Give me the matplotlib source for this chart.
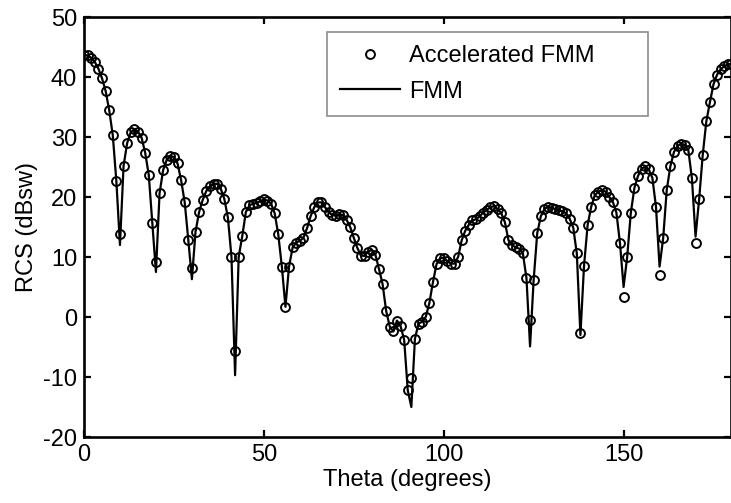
import matplotlib
matplotlib.use("Agg")
import matplotlib.pyplot as plt
import numpy as np

plt.rcParams['font.family'] = ['Liberation Sans', 'DejaVu Sans']
plt.rcParams['axes.unicode_minus'] = False

theta = list(range(0, 181))

rcs_accelerated = [
    43.7, 43.6, 43.2, 42.5, 41.4, 39.8, 37.7, 34.5, 30.3, 22.6,
    13.8, 25.2, 29.0, 30.8, 31.3, 30.9, 29.9, 27.4, 23.7, 15.6,
    9.2, 20.6, 24.5, 26.2, 26.9, 26.6, 25.6, 22.8, 19.1, 12.8,
    8.1, 14.2, 17.5, 19.5, 21.0, 21.8, 22.2, 22.2, 21.4, 19.7,
    16.6, 10.0, -5.7, 10.0, 13.5, 17.5, 18.6, 18.9, 19.0, 19.3,
    19.6, 19.4, 18.9, 17.3, 13.8, 8.4, 1.7, 8.4, 11.6, 12.4,
    12.7, 13.2, 14.8, 16.8, 18.3, 19.1, 19.1, 18.3, 17.5, 17.0,
    16.9, 17.1, 17.0, 16.2, 15.0, 13.2, 11.5, 10.2, 10.2, 10.9,
    11.2, 10.4, 8.0, 5.5, 1.0, -1.6, -2.4, -0.6, -1.5, -3.8,
    -12.2, -10.2, -3.6, -1.1, -0.8, 0.0, 2.3, 5.8, 8.8, 9.8,
    9.9, 9.3, 8.9, 8.9, 10.0, 12.8, 14.4, 15.4, 16.1, 16.3,
    16.8, 17.4, 17.9, 18.3, 18.5, 18.0, 17.3, 15.8, 12.8, 12.0,
    11.6, 11.4, 10.6, 6.5, -0.5, 6.2, 14.0, 16.8, 18.0, 18.4,
    18.2, 18.0, 17.8, 17.6, 17.3, 16.4, 14.9, 10.6, -2.7, 8.5,
    15.3, 18.4, 20.3, 20.9, 21.1, 20.9, 20.0, 19.2, 17.4, 12.3,
    3.4, 10.0, 17.3, 21.5, 23.5, 24.7, 25.1, 24.6, 23.2, 18.4,
    7.0, 13.1, 21.2, 25.1, 27.5, 28.5, 28.9, 28.7, 27.8, 23.1,
    12.3, 19.6, 27.0, 32.6, 35.8, 38.8, 40.4, 41.3, 41.8, 42.1,
    42.2,
]

# FMM reference: same samples, deeper/shallower at the nulls
fmm_null_theta = [10, 20, 30, 42, 91, 124, 138, 150, 160, 170]
fmm_null_value = [12.0, 7.5, 6.3, -9.7, -15.0, -4.9, -3.0, 5.0, 8.4, 13.4]
rcs_fmm = list(rcs_accelerated)
for t, v in zip(fmm_null_theta, fmm_null_value):
    rcs_fmm[theta.index(t)] = v

xticks = [0, 50, 100, 150]
yticks = [-20, -10, 0, 10, 20, 30, 40, 50]

fig = plt.figure(figsize=(7.31, 5.03), dpi=100)
W, H = 731, 503
ax = fig.add_axes([84 / W, (H - 437) / H, 647.5 / W, 420 / H])

line_fmm, = ax.plot(theta, rcs_fmm, color='black', lw=1.6, zorder=2)
pts_acc, = ax.plot(theta, rcs_accelerated, linestyle='none', marker='o',
                   markersize=6.4, markerfacecolor='none',
                   markeredgecolor='black', markeredgewidth=1.4, zorder=3)

ax.set_xlim(0, 180)
ax.set_ylim(-20, 50)
ax.set_xticks(xticks)
ax.set_yticks(yticks)
ax.tick_params(direction='in', length=5, width=1.6, top=True, right=True,
               labelsize=17, pad=5)
for s in ax.spines.values():
    s.set_linewidth(1.9)

ax.set_xlabel('Theta (degrees)', fontsize=17, labelpad=2)
ax.set_ylabel('RCS (dBsw)', fontsize=17, labelpad=4)

x0 = (326.7 - 84) / 647.5
x1 = (647.7 - 84) / 647.5
ytop = (437 - 31.7) / 420
leg = ax.legend([pts_acc, line_fmm], ['Accelerated FMM', 'FMM'],
                loc='upper left', bbox_to_anchor=(x0, ytop - 0.3, x1 - x0, 0.3),
                mode='expand', borderaxespad=0, fontsize=17, numpoints=1,
                handlelength=2.55, handletextpad=0.35, borderpad=0.57,
                labelspacing=0.57, fancybox=False, framealpha=1)
leg.get_frame().set_edgecolor('#8c8c8c')
leg.get_frame().set_linewidth(1.2)

fig.savefig('out.png', dpi=100)
